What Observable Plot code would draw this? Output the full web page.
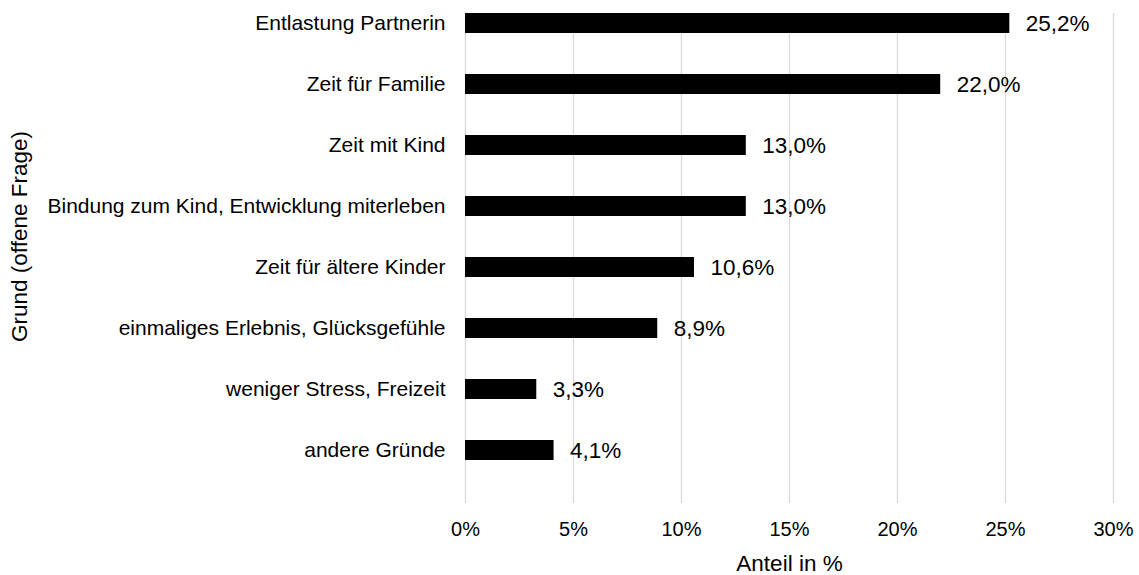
<!DOCTYPE html>
<html>
<head>
<meta charset="utf-8">
<script src="https://cdn.jsdelivr.net/npm/d3@7"></script>
<script src="https://cdn.jsdelivr.net/npm/@observablehq/plot@0.6"></script>
<style>
  html, body { margin: 0; padding: 0; background: #fff; }
  svg { font-family: "Liberation Sans", Arial, sans-serif; }
</style>
</head>
<body>
<div id="chart"></div>
<script>
const categories = [
  "Entlastung Partnerin",
  "Zeit für Familie",
  "Zeit mit Kind",
  "Bindung zum Kind, Entwicklung miterleben",
  "Zeit für ältere Kinder",
  "einmaliges Erlebnis, Glücksgefühle",
  "weniger Stress, Freizeit",
  "andere Gründe"
];
const values = [25.2, 22.0, 13.0, 13.0, 10.6, 8.9, 3.3, 4.1];
const xTicks = [0, 5, 10, 15, 20, 25, 30];
const xTitle = "Anteil in %";
const yTitle = "Grund (offene Frage)";

const data = categories.map((c, i) => ({category: c, value: values[i]}));
const fmt = v => v.toFixed(1).replace(".", ",") + "%";

const chart = Plot.plot({
  width: 1139,
  height: 575,
  marginTop: 13,
  marginBottom: 72,
  marginLeft: 465,
  marginRight: 26,
  style: {fontFamily: '"Liberation Sans", Arial, sans-serif', color: "#000", background: "#fff"},
  x: {domain: [0, 30], ticks: xTicks},
  y: {domain: categories, paddingInner: 0.674, paddingOuter: 0.3255, align: 0},
  marks: [
    Plot.ruleX(xTicks, {stroke: "#d9d9d9", strokeWidth: 1.3}),
    Plot.barX(data, {x: "value", y: "category", fill: "#000"}),
    Plot.text(data, {x: "value", y: "category", text: d => fmt(d.value), textAnchor: "start", dx: 16, fontSize: 22.5, fill: "#000"}),
    Plot.axisX({ticks: xTicks, tickFormat: d => d + "%", tickSize: 0, tickPadding: 18, fontSize: 20, label: null}),
    Plot.axisY({tickSize: 0, tickPadding: 20, fontSize: 21, label: null}),
    Plot.text([xTitle], {frameAnchor: "bottom", dy: 60, lineAnchor: "middle", fontSize: 22.5, fill: "#000"}),
    Plot.text([yTitle], {frameAnchor: "left", dx: -446, dy: -22, rotate: -90, textAnchor: "middle", lineAnchor: "middle", fontSize: 22.5, fill: "#000"})
  ]
});
document.getElementById("chart").appendChild(chart);
</script>
</body>
</html>
